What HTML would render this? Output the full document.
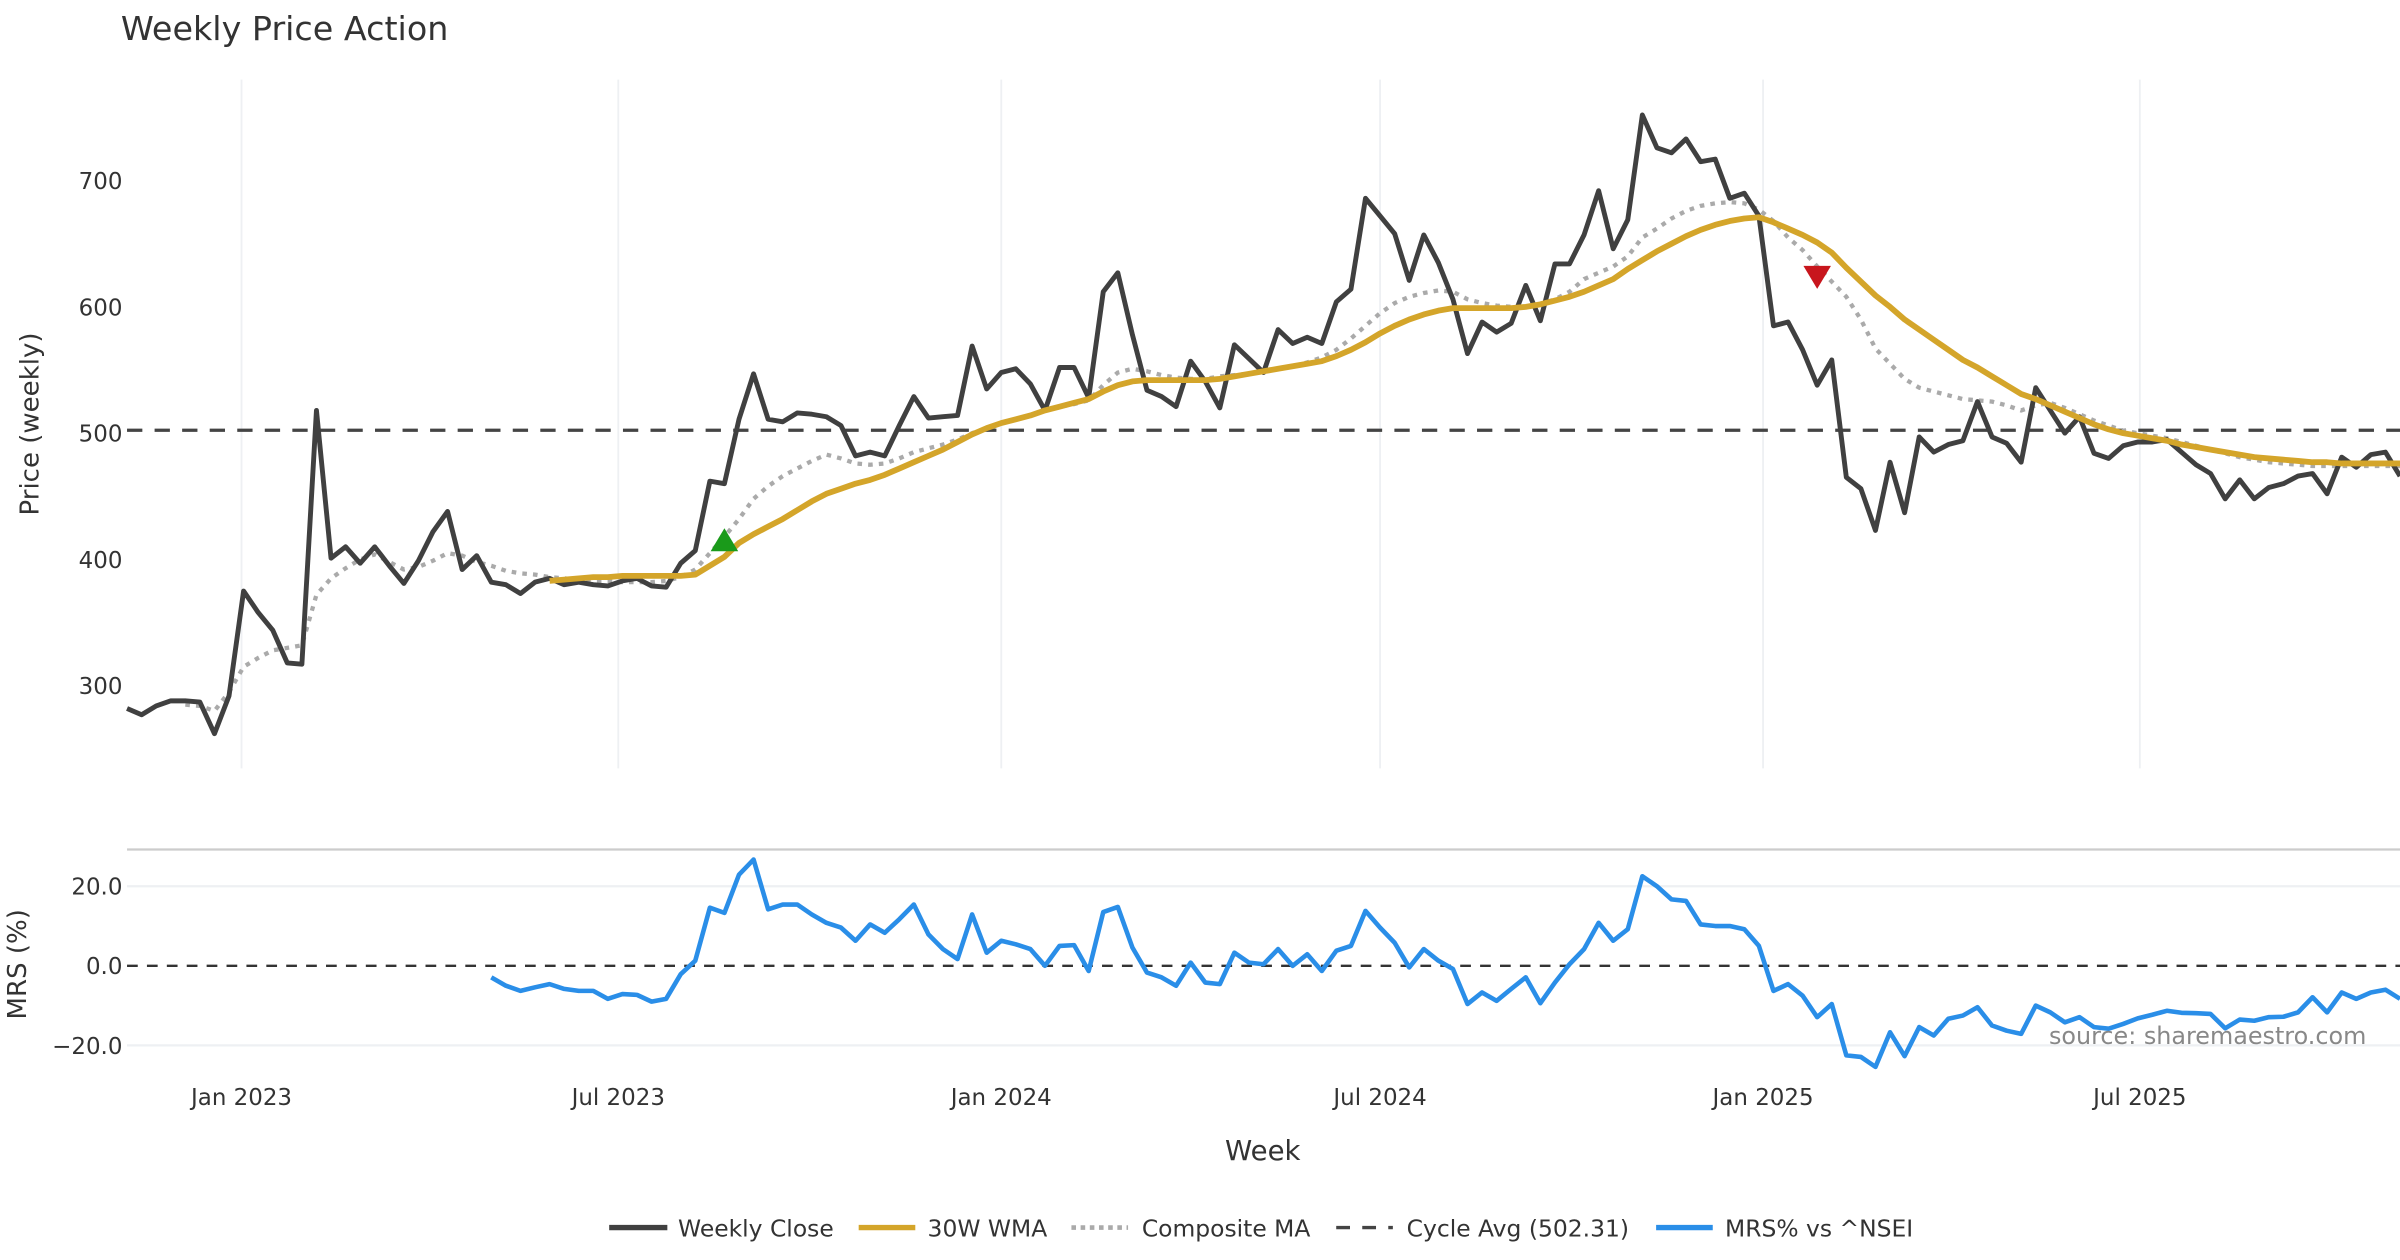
<!DOCTYPE html>
<html><head><meta charset="utf-8"><style>
html,body{margin:0;padding:0;background:#fff;}
svg{display:block;font-family:"DejaVu Sans","Liberation Sans",sans-serif;}
</style></head><body>
<svg id="chart" width="2400" height="1260" viewBox="0 0 1568 823.2" preserveAspectRatio="none" xmlns="http://www.w3.org/2000/svg">
<text x="79" y="26" font-size="21.8" fill="#333">Weekly Price Action</text>
<g id="grid"></g><g id="series"></g><g id="axes"></g>
<text transform="translate(25,277) rotate(-90)" text-anchor="middle" font-size="17" fill="#333">Price (weekly)</text>
<text transform="translate(17,630) rotate(-90)" text-anchor="middle" font-size="17" fill="#333">MRS (%)</text>
<text x="825" y="758" text-anchor="middle" font-size="18" fill="#333">Week</text>
<text x="1546" y="682" text-anchor="end" font-size="15.6" fill="#888">source: sharemaestro.com</text>
<g font-size="15.3" fill="#333">
<g><line x1="398" y1="802" x2="436" y2="802" stroke="#404040" stroke-width="3.5"/><text x="443" y="808">Weekly Close</text></g>
<g><line x1="561" y1="802" x2="598" y2="802" stroke="#D4A52A" stroke-width="3.5"/><text x="606" y="808">30W WMA</text></g>
<g><line x1="700" y1="802" x2="737" y2="802" stroke="#aaa" stroke-width="3" stroke-dasharray="3,3"/><text x="746" y="808">Composite MA</text></g>
<g><line x1="873" y1="802" x2="910" y2="802" stroke="#444" stroke-width="2.2" stroke-dasharray="9,8"/><text x="919" y="808">Cycle Avg (502.31)</text></g>
<g><line x1="1082" y1="802" x2="1119" y2="802" stroke="#2a8ee8" stroke-width="3.5"/><text x="1127" y="808">MRS% vs ^NSEI</text></g>
</g>
</svg>
<script>
const closeVals=[282,277,284,288,288,287,262,292,375,358,344,318,317,518,401,410,397,410,395,381,399,422,438,392,403,382,380,373,382,385,380,382,380,379,383,385,379,378,397,407,462,460,511,547,511,509,516,515,513,506,482,485,482,506,529,512,513,514,569,535,548,551,539,518,552,552,528,612,627,578,534,529,521,557,
541,520,570,559,548,582,571,576,571,604,614,686,672,658,621,657,635,606,563,588,580,587,617,589,634,634,657,692,646,669,752,726,722,733,715,717,686,690,672,585,588,566,538,558,465,456,423,477,437,497,485,491,494,525,497,492,477,536,518,500,513,484,480,490,493,493,495,485,475,468,448,463,448,457,460,466,468,452,481,473,483,485,466];
const wmaStart=29;
const wmaVals=[383,384,385,386,386,387,387,387,387,387,388,395,402,413,420,426,432,439,446,452,456,460,463,467,472,477,482,487,493,499,504,508,511,514,518,521,524,527,533,538,541,542,542,542,542,542,543,545,547,549,551,553,555,557,561,566,572,579,585,590,594,597,599,599,599,599,599,600,602,605,608,612,617,622,630,637,644,650,656,661,665,668,670,671,667,662,657,651,643,631,620,609,600,590,582,574,566,558,552,545,538,531,527,522,517,512,507,503,500,498,496,494,491,489,487,485,483,481,480,479,478,477,477,476,476,476,476,476];
const compStart=4;
const compVals=[285,284,280,295,315,322,328,330,332,372,385,393,400,404,398,392,394,399,405,403,398,395,391,389,388,386,385,384,383,383,382,382,382,383,386,392,405,418,432,448,458,466,472,478,483,480,476,475,476,480,485,488,491,495,500,504,508,511,514,518,521,523,526,538,548,551,549,546,544,543,543,545,546,547,549,551,553,556,560,566,575,585,595,603,608,611,613,612,606,603,601,600,600,602,606,612,622,627,632,640,655,662,670,676,680,682,683,682,677,668,655,645,632,620,608,590,567,555,543,536,533,530,527,526,525,522,518,522,524,520,515,510,506,502,500,498,496,493,490,487,484,481,479,477,476,475,474,474,474,474,474,474,474];
const mrsStart=25;
const mrsVals=[-2.9,-5,-6.3,-5.4,-4.6,-5.8,-6.3,-6.3,-8.3,-7.1,-7.3,-9,-8.3,-2.1,1.3,14.6,13.3,22.9,26.7,14.2,15.4,15.4,12.9,10.8,9.6,6.3,10.4,8.3,11.7,15.4,7.9,4.2,1.7,12.9,3.3,6.3,5.4,4.2,0,5,5.2,-1.3,13.5,14.8,4.6,-1.7,-2.9,-5,0.8,-4.2,-4.6,3.3,0.8,0.4,4.2,0,2.9,-1.3,3.8,5,13.8,9.6,5.8,-0.4,4.2,1.3,-0.8,-9.6,-6.7,-8.8,-5.8,-2.9,-9.4,-4.2,0.4,4.2,10.8,6.3,9.2,22.5,20,16.7,16.3,10.4,10,10,9.2,5,-6.3,-4.6,-7.5,-12.9,-9.6,-22.5,-22.9,-25.4,-16.7,-22.7,-15.4,-17.5,-13.3,-12.5,-10.4,-15,-16.3,-17.1,-10,-11.7,-14.2,-12.9,-15.4,-15.8,-14.6,-13.2,-12.3,-11.3,-11.8,-11.9,-12.1,-15.7,-13.5,-13.8,-12.9,-12.8,-11.7,-7.9,-11.7,-6.7,-8.3,-6.7,-6,-8.3];
const cycleAvg=502.31;
const priceTicks=[300,400,500,600,700];
const mrsTicks=[-20,0,20];
const mrsTickLabels=["\u221220.0","0.0","20.0"];
const dateTickLabels=["Jan 2023","Jul 2023","Jan 2024","Jul 2024","Jan 2025","Jul 2025"];
const dateTicks=["2023-01-01","2023-07-01","2024-01-01","2024-07-01","2025-01-01","2025-07-01"];
const buySignal={i:41,v:415};
const sellSignal={i:116,v:624};
const startDate=new Date("2022-11-07");

const NS="http://www.w3.org/2000/svg";
const X0=83,DX=(1568-83)/156;
function xi(i){return X0+i*DX;}
function xd(s){return xi((new Date(s)-startDate)/(7*864e5));}
function yp(v){return 118+(700-v)*0.825;}
function ym(v){return 631-v*2.6;}
function mk(tag,attrs,parent){const e=document.createElementNS(NS,tag);for(const k in attrs)e.setAttribute(k,attrs[k]);parent.appendChild(e);return e;}
const grid=document.getElementById('grid'),ser=document.getElementById('series'),axes=document.getElementById('axes');

dateTicks.forEach((d,k)=>{
  const x=xd(d);
  const g1=mk('line',{x1:x,x2:x,y1:52,y2:502,stroke:'#eef0f3','stroke-width':1.2},grid);
  
  
  const t=mk('text',{x:x,y:722,'text-anchor':'middle','font-size':15,fill:'#333'},axes);
  t.textContent=dateTickLabels[k];
  
  
});
priceTicks.forEach(v=>{
  const t=mk('text',{x:80,y:yp(v)+5.5,'text-anchor':'end','font-size':15,fill:'#333'},axes);
  t.textContent=v;
  
  
});
mrsTicks.forEach((v,k)=>{
  if(v!==0){const gl=mk('line',{x1:83,x2:1568,y1:ym(v),y2:ym(v),stroke:'#eef0f3','stroke-width':1.5},grid);
  
  }
  const t=mk('text',{x:80,y:ym(v)+5.5,'text-anchor':'end','font-size':15,fill:'#333'},axes);
  t.textContent=mrsTickLabels[k];
  
  
});
const sep=mk('line',{x1:83,x2:1568,y1:555,y2:555,stroke:'#ccc','stroke-width':1.5},grid);



function path(vals,start,yf,attrs,name){
  let d='';vals.forEach((v,k)=>{d+=(k?'L':'M')+xi(start+k).toFixed(2)+','+yf(v).toFixed(2);});
  const p=mk('path',Object.assign({d:d,fill:'none','stroke-linejoin':'round'},attrs),ser);
  
  
}
const ca=mk('line',{x1:83,x2:1568,y1:yp(cycleAvg),y2:yp(cycleAvg),stroke:'#444','stroke-width':2.2,'stroke-dasharray':'10,8'},ser);


const zl=mk('line',{x1:83,x2:1568,y1:ym(0),y2:ym(0),stroke:'#333','stroke-width':1.6,'stroke-dasharray':'7,6'},ser);


path(compVals,compStart,yp,{stroke:'#aaa','stroke-width':2.8,'stroke-dasharray':'3,4'},'composite-ma-line');
path(closeVals,0,yp,{stroke:'#404040','stroke-width':3.2},'weekly-close-line');
path(wmaVals,wmaStart,yp,{stroke:'#D4A52A','stroke-width':3.8},'wma-30w-line');
path(mrsVals,mrsStart,ym,{stroke:'#2a8ee8','stroke-width':3},'mrs-line');
{const x=xi(buySignal.i),y=yp(buySignal.v);
 const t=mk('polygon',{points:`${x-9},${y+7} ${x+9},${y+7} ${x},${y-8}`,fill:'#1a9a1a'},ser);
 
 }
{const x=xi(sellSignal.i),y=yp(sellSignal.v);
 const t=mk('polygon',{points:`${x-9},${y-7} ${x+9},${y-7} ${x},${y+8}`,fill:'#c8161d'},ser);
 
 }
</script>
</body></html>
